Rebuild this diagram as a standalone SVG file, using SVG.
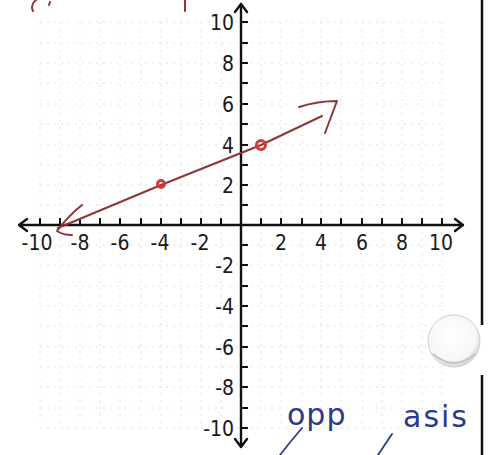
<svg xmlns="http://www.w3.org/2000/svg" width="496" height="455" viewBox="0 0 496 455">
<defs>
<style>
.grid{stroke:#e2e2e2;stroke-width:1;stroke-dasharray:2 5;fill:none}
.axis{stroke:#111;stroke-width:2.4;fill:none;stroke-linecap:round;stroke-linejoin:round}
.tick{stroke:#111;stroke-width:2}
.lbl{font-family:"DejaVu Sans Condensed","DejaVu Sans",sans-serif;font-size:21px;fill:#1a1a1a}
.red{stroke:#8e3636;stroke-width:2;fill:none;stroke-linecap:round;stroke-linejoin:round}
.pt{stroke:#d23a3a;stroke-width:3;fill:none}
.blue{stroke:#2c3a8c;stroke-width:1.8;fill:none;stroke-linecap:round;stroke-linejoin:round}
.hw{font-family:"DejaVu Sans",sans-serif;font-size:30px;fill:#2c3a8c}
</style>
<radialGradient id="btn" cx="0.45" cy="0.4" r="0.6">
<stop offset="0" stop-color="#ffffff"/>
<stop offset="0.8" stop-color="#f7f7f7"/>
<stop offset="1" stop-color="#d6d6d6"/>
</radialGradient>
</defs>
<rect width="496" height="455" fill="#fff"/>
<g id="grid">
<path class="grid" d="M40 22V428M60 22V428M80 22V428M100 22V428M120 22V428M141 22V428M161 22V428M181 22V428M201 22V428M221 22V428M261 22V428M281 22V428M302 22V428M321 22V428M341 22V428M362 22V428M382 22V428M402 22V428M422 22V428M442 22V428"/>
<path class="grid" d="M40 22H442M40 43H442M40 63H442M40 83H442M40 104H442M40 124H442M40 145H442M40 165H442M40 185H442M40 205H442M40 245H442M40 265H442M40 286H442M40 306H442M40 326H442M40 347H442M40 367H442M40 387H442M40 408H442M40 428H442"/>
</g>
<g id="axes">
<path class="axis" d="M19 225H463M455 219L463 225L455 231M27 219L19 225L27 231"/>
<path class="axis" d="M241 4V447M235 12L241 4L247 12M235 439L241 447L247 439"/>
<path class="tick" d="M40 225V218M60 225V218M80 225V218M100 225V218M120 225V218M141 225V218M161 225V218M181 225V218M201 225V218M221 225V218M261 225V218M281 225V218M302 225V218M321 225V218M341 225V218M362 225V218M382 225V218M402 225V218M422 225V218M442 225V218"/>
<path class="tick" d="M241 22H248M241 43H248M241 63H248M241 83H248M241 104H248M241 124H248M241 145H248M241 165H248M241 185H248M241 205H248M241 245H248M241 265H248M241 286H248M241 306H248M241 326H248M241 347H248M241 367H248M241 387H248M241 408H248M241 428H248"/>
</g>
<g id="labels" class="lbl">
<g text-anchor="middle">
<text x="37" y="250">-10</text>
<text x="80" y="250">-8</text>
<text x="120" y="250">-6</text>
<text x="160" y="250">-4</text>
<text x="200" y="250">-2</text>
<text x="281" y="250">2</text>
<text x="321" y="250">4</text>
<text x="362" y="250">6</text>
<text x="402" y="250">8</text>
<text x="441" y="250">10</text>
</g>
<g text-anchor="end">
<text x="234" y="30">10</text>
<text x="234" y="71">8</text>
<text x="234" y="112">6</text>
<text x="234" y="153">4</text>
<text x="234" y="193">2</text>
<text x="234" y="273">-2</text>
<text x="234" y="314">-4</text>
<text x="234" y="355">-6</text>
<text x="234" y="395">-8</text>
<text x="234" y="436">-10</text>
</g>
</g>
<g id="line">
<path class="red" d="M58 228L161 185L261 145L322 116"/>
<path class="red" d="M299 107Q318 101 337 101L325 133"/>
<path class="red" d="M82 205Q68 216 57 231Q63 235 72 235"/>
<circle class="pt" cx="261" cy="145" r="4.5"/>
<circle class="pt" cx="161" cy="184" r="3.5" stroke-width="2.2"/>
</g>
<g id="marks">
<path class="red" d="M36 0Q30 5 33 11"/>
<path class="red" d="M50 2L49 5"/>
<path class="red" d="M185 0V11"/>
</g>
<g id="handwriting">
<text class="hw" x="287" y="425" letter-spacing="1">opp</text>
<path class="blue" d="M280 455Q290 442 302 428"/>
<text class="hw" x="403" y="427" letter-spacing="2">asis</text>
<path class="blue" d="M378 455Q384 446 392 434"/>
</g>
<g id="frame">
<path stroke="#111" stroke-width="2.5" d="M482 0V325M482 375V455"/>
<circle cx="454" cy="341" r="26" fill="url(#btn)" stroke="#cfcfcf" stroke-width="1"/>
<path d="M433 354Q454 372 475 354" stroke="#c4c4c4" stroke-width="2" fill="none"/>
</g>
</svg>
